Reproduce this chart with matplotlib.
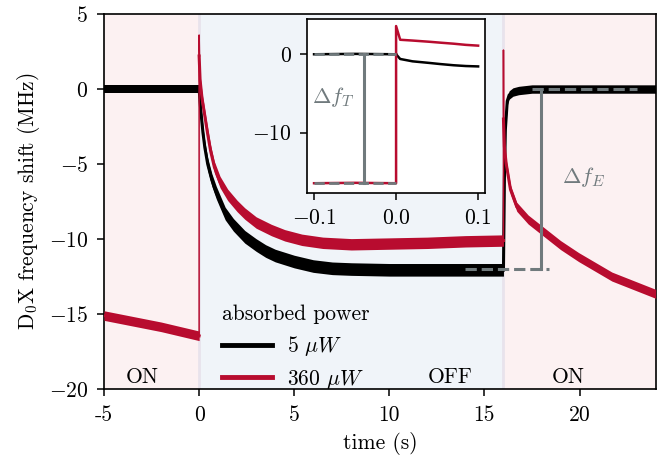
import matplotlib
matplotlib.use("Agg")
import matplotlib.pyplot as plt
import numpy as np

plt.rcParams['font.family'] = 'serif'
plt.rcParams['font.serif'] = ['cmr10']
plt.rcParams['mathtext.fontset'] = 'cm'
plt.rcParams['axes.formatter.use_mathtext'] = True
plt.rcParams['font.size'] = 15.5

# ---- data (MHz vs s) ----
black_pre_t = [-5, -4, -3, -2, -1, 0]
black_pre = [0.0, 0.0, 0.0, 0.0, 0.0, 0.0]
black_off_t = [0, 0.05, 0.1, 0.2, 0.3, 0.45, 0.67, 0.9, 1.1, 1.37, 1.8, 2.4,
               3.0, 3.5, 4.0, 5.0, 6.0, 7.0, 8.0, 10, 12, 14, 16]
black_off = [0, -0.9, -1.6, -2.9, -3.9, -5.0, -6.07, -6.9, -7.5, -8.3, -9.05, -9.85,
             -10.4, -10.8, -11.1, -11.5, -11.8, -11.95, -12.0, -12.05, -12.05, -12.05, -12.05]
black_on_t = [16, 16.05, 16.1, 16.2, 16.3, 16.5, 16.8, 17.5, 20, 24]
black_on = [-12.05, -6.0, -2.7, -0.8, -0.4, -0.2, -0.1, 0.0, 0.0, 0.0]

red_pre_t = [-5, -4, -3, -2, -1, 0]
red_pre = [-15.1, -15.35, -15.6, -15.85, -16.15, -16.45]
red_off_t = [0, 0.05, 0.15, 0.3, 0.45, 0.6, 0.8, 1.1, 1.5, 2.0, 2.4, 3.0, 3.8,
             4.5, 5.4, 6.5, 8, 10, 12, 14, 16]
red_off = [2.2, 0.6, -0.6, -1.8, -3.0, -4.1, -5.2, -6.2, -7.05, -7.8, -8.3, -8.9, -9.4,
           -9.75, -10.05, -10.25, -10.35, -10.3, -10.25, -10.15, -10.1]
red_on_t = [16, 16.05, 16.14, 16.37, 16.7, 17.3, 18.2, 19.0, 19.95, 21.7, 23.5, 24]
red_on = [-2.0, -3.85, -4.95, -6.7, -7.85, -8.7, -9.6, -10.4, -11.2, -12.5, -13.4, -13.65]
red_spikes = [3.6, 2.6]  # peak at laser off (t=0) and on (t=16)

# noise half-widths of each trace segment
black_noise = [0.28, 0.42, 0.28]
red_noise = [0.32, 0.38, 0.3]

# inset (zoom around t=0)
ins_pre_t = [-0.1, -0.05, 0.0]
ins_black_pre = [0.0, 0.05, 0.0]
ins_red_pre = [-16.45, -16.4, -16.45]
ins_post_t = [0.0, 0.005, 0.02, 0.04, 0.054, 0.07, 0.085, 0.1]
ins_black_post = [0.0, -0.6, -0.9, -1.1, -1.25, -1.4, -1.5, -1.55]
ins_red_post = [3.6, 1.85, 1.75, 1.6, 1.48, 1.35, 1.2, 1.1]

df_T = [-0.039, 0.0, -16.45]   # x, top, bottom
df_E = [18.0, 0.0, -12.0]

BLACK = '#000000'
RED = '#b80c2f'
GRAY = '#707a7d'
PINK = '#fcf1f2'
BLUE = '#f0f4f9'

fig = plt.figure(figsize=(6.69, 4.61), dpi=100)
ax = fig.add_axes([0.1555, 0.156, 0.8245, 0.8136])

ax.axvspan(-5, 0, color=PINK, lw=0, zorder=0)
ax.axvspan(0, 16, color=BLUE, lw=0, zorder=0)
ax.axvspan(16, 24, color=PINK, lw=0, zorder=0)
ax.axvline(0, color='#e8e3ec', lw=2, zorder=0.5)
ax.axvline(16, color='#e8e3ec', lw=2, zorder=0.5)

def trace(t, y, hw, color, z):
    t = np.asarray(t, float)
    y = np.asarray(y, float)
    ax.fill_between(t, y - hw, y + hw, color=color, lw=0, zorder=z)
    ax.plot(t, y, color=color, lw=2.2, zorder=z)

for (t, y), hw in zip([(black_pre_t, black_pre), (black_off_t, black_off), (black_on_t, black_on)], black_noise):
    trace(t, y, hw, BLACK, 2)
for (t, y), hw in zip([(red_pre_t, red_pre), (red_off_t, red_off), (red_on_t, red_on)], red_noise):
    trace(t, y, hw, RED, 3)

# red jumps at switching
ax.plot([0, 0, 0.02], [red_pre[-1], red_spikes[0], red_off[0]], color=RED, lw=1.1, zorder=3)
ax.plot([16, 16, 16.01], [red_off[-1], red_spikes[1], red_on[0]], color=RED, lw=1.1, zorder=3)

# legend handles
ax.plot([], [], color=BLACK, lw=3.5, label=r'5 $\mu W$')
ax.plot([], [], color=RED, lw=3.5, label=r'360 $\mu W$')

# Delta f_E annotation
ax.plot([17.5, 23.0], [0, 0], color=GRAY, lw=2.2, ls='--', zorder=4)
ax.plot([14.0, 18.4], [-12, -12], color=GRAY, lw=2.2, ls='--', zorder=4)
ax.plot([df_E[0], df_E[0]], [df_E[1], df_E[2]], color=GRAY, lw=2.2, zorder=4)
ax.text(19.1, -5.85, r'$\Delta f_E$', color=GRAY, fontsize=16, va='center', ha='left')

ax.text(-3.0, -19.2, 'ON', ha='center', va='center')
ax.text(13.2, -19.2, 'OFF', ha='center', va='center')
ax.text(19.4, -19.2, 'ON', ha='center', va='center')

ax.set_xlim(-5, 24)
ax.set_ylim(-20, 5)
ax.set_xticks([-5, 0, 5, 10, 15, 20])
ax.set_xticklabels(['-5', '0', '5', '10', '15', '20'])
ax.set_yticks([-20, -15, -10, -5, 0, 5])
ax.set_xlabel('time (s)', labelpad=5)
ax.set_ylabel(r'D$_0$X frequency shift (MHz)', labelpad=5)
ax.tick_params(direction='out', length=5, width=1.1, pad=6.5)
for s in ax.spines.values():
    s.set_linewidth(1.2)

leg = ax.legend(title='absorbed power', loc='upper left', bbox_to_anchor=(0.214, 0.225),
                frameon=False, handlelength=2.3, handletextpad=0.7, labelspacing=0.46,
                borderpad=0, borderaxespad=0, alignment='left')

# ---- inset ----
ins = fig.add_axes([0.459, 0.5813, 0.2661, 0.3775])
ins.set_facecolor('white')
ins.plot(ins_pre_t, ins_black_pre, color=BLACK, lw=1.8, zorder=2)
ins.plot(ins_post_t, ins_black_post, color=BLACK, lw=1.8, zorder=2)
ins.plot(ins_pre_t + ins_post_t, ins_red_pre + ins_red_post, color=RED, lw=1.8, zorder=3)
ins.plot([-0.1, 0.0], [0, 0], color=GRAY, lw=2.0, ls='--', zorder=4)
ins.plot([-0.1, 0.0], [df_T[2], df_T[2]], color=GRAY, lw=2.0, ls='--', zorder=4)
ins.plot([df_T[0], df_T[0]], [df_T[1], df_T[2]], color=GRAY, lw=2.2, zorder=4)
ins.text(-0.1028, -5.5, r'$\Delta f_T$', color=GRAY, fontsize=16, va='center', ha='left')
ins.set_xlim(-0.1085, 0.1085)
ins.set_ylim(-17.7, 4.5)
ins.set_xticks([-0.1, 0.0, 0.1])
ins.set_yticks([-10, 0])
ins.tick_params(direction='out', length=5, width=1.1, pad=6)
for s in ins.spines.values():
    s.set_linewidth(1.2)

fig.savefig('out.png', dpi=100)
